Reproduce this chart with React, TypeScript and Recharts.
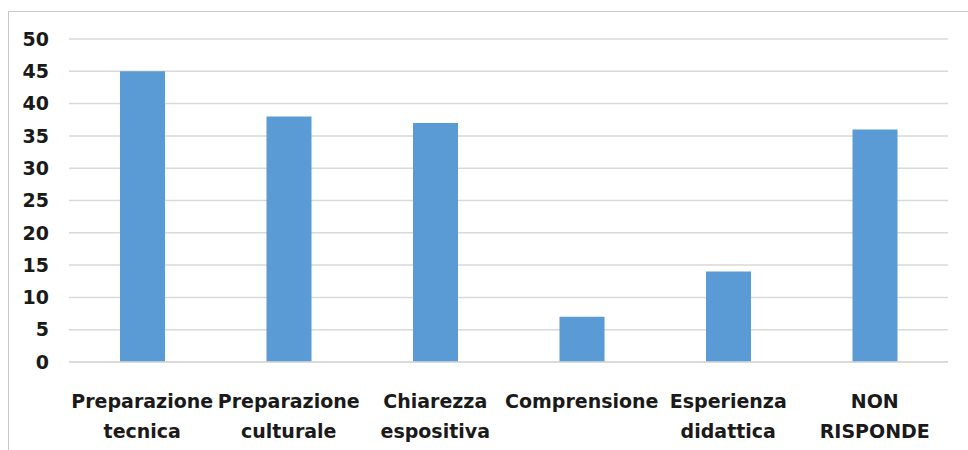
import { BarChart, Bar, XAxis, YAxis, CartesianGrid } from 'recharts'

const CATEGORIES = [
  'Preparazione tecnica',
  'Preparazione culturale',
  'Chiarezza espositiva',
  'Comprensione',
  'Esperienza didattica',
  'NON RISPONDE',
]
const VALUES = [45, 38, 37, 7, 14, 36]
const Y_TICKS = [0, 5, 10, 15, 20, 25, 30, 35, 40, 45, 50]

const data = CATEGORIES.map((name, i) => ({ name, value: VALUES[i] }))

const FONT = '"DejaVu Sans", sans-serif'

function CategoryTick({ x, y, payload }: any) {
  const lines = String(payload.value).split(' ')
  return (
    <text x={x} y={y} textAnchor="middle" fill="#1a1a1a" fontFamily={FONT} fontWeight="bold" fontSize={19}>
      {lines.map((line, i) => (
        <tspan key={i} x={x} dy={i === 0 ? 46 : 30}>
          {line}
        </tspan>
      ))}
    </text>
  )
}

export default function App() {
  return (
    <div style={{ position: 'absolute', left: 0, top: 0, width: 968, height: 450, overflow: 'hidden', background: '#fff' }}>
      <div
        style={{
          position: 'absolute',
          left: 8,
          top: 11,
          width: 1000,
          height: 500,
          borderLeft: '1px solid #c8c8c8',
          borderTop: '1px solid #c8c8c8',
        }}
      />
      <div style={{ position: 'absolute', left: 0, top: 0 }}>
        <BarChart width={968} height={450} data={data} margin={{ top: 39, right: 20, left: 0, bottom: 0 }}>
          <CartesianGrid vertical={false} stroke="#d9d9d9" strokeWidth={1.5} />
          <XAxis
            dataKey="name"
            height={88}
            axisLine={{ stroke: '#d9d9d9', strokeWidth: 1.5 }}
            tickLine={false}
            tickSize={0}
            tickMargin={0}
            interval={0}
            tick={<CategoryTick />}
          />
          <YAxis
            width={69}
            domain={[0, 50]}
            ticks={Y_TICKS}
            axisLine={false}
            tickLine={false}
            tickSize={0}
            tickMargin={20}
            tick={{ fill: '#1a1a1a', fontFamily: FONT, fontWeight: 'bold', fontSize: 19 }}
          />
          <Bar dataKey="value" fill="#5b9bd5" barSize={45} isAnimationActive={false} />
        </BarChart>
      </div>
    </div>
  )
}
